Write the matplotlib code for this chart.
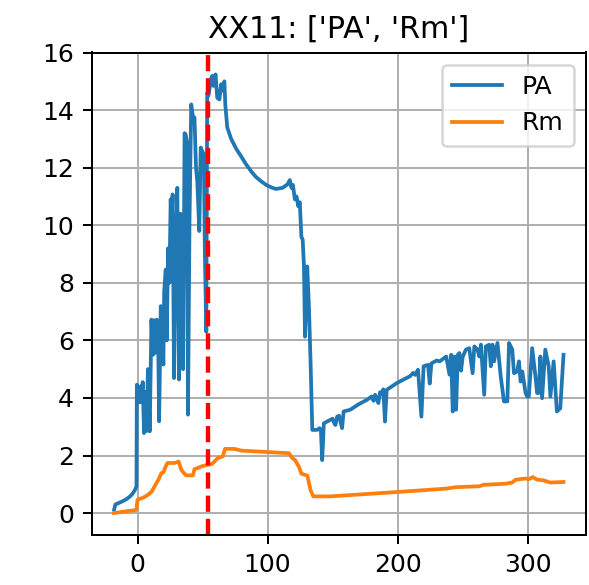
import matplotlib
matplotlib.use("Agg")
import matplotlib.pyplot as plt

# PA series (x, y)
pa_x = [-18, -17, -14, -11, -8, -6, -4, -2, -0.8, -0.5, 1, 2, 3, 4, 5, 6, 7, 8, 9.4, 10.7, 12, 12.7, 13.5,
        14.8, 16.0, 16.6, 17.9, 19.0, 19.9, 20.5, 21.7, 22.5, 23.5, 24.5, 25.5, 26.2, 27.0, 28.1, 29,
        30.6, 31.9, 33.1, 33.8, 34.4, 35.0, 36.2, 37.0, 38.0, 38.8, 40.0, 41.3, 42.5, 43.8, 45.0, 46.0,
        47.5, 48.6, 49.5, 51.0, 51.8, 52.9, 53.6, 54.5, 56.6, 57.4, 58.4, 60.0, 61.3, 63.0, 64.3, 65.6,
        66.8, 67.5, 69.0, 72, 76, 79.6, 83, 87.3, 91, 95, 99, 102.6, 106.4, 111.5, 115.3, 117.1, 118.4,
        119.5, 121, 122.3, 123.6, 124.8, 126, 127, 128, 128.8, 130.5, 131.8, 133.1,
        134.4, 138.2, 140, 141, 142, 143.3, 148.4, 150, 151.5, 152.2, 153.5, 155, 157.3, 158.5, 163.6,
        170, 176.3, 180, 181.5, 182.7, 185.2, 186.5, 188, 189, 190.3, 191.6, 199.2, 205, 209.4, 212,
        213.5, 215.7, 218.3, 220.0, 223.4, 224.7, 226, 230,
        232.3, 234.8, 237.4, 239.9, 241.2, 242.4, 243.7, 245.0, 246.3, 247.5, 248.8, 250.1, 252.6,
        255.1, 257.7, 259.0, 261.5, 262.8, 264.1, 266.6, 267.9, 270.4, 271.7, 273.0, 274.2, 276.8,
        279.3, 281.8, 284.4, 285.7, 288.2, 289.5, 292.0, 293.3, 294.6, 295.9, 298.4, 299.7, 300.9,
        303.5, 306.0, 307.3, 308.5, 309.8, 311.1, 313.6, 316.2, 317.5, 320.0, 322.5, 325.1, 327.6]
pa_y = [0.12, 0.3, 0.36, 0.42, 0.5, 0.57, 0.66, 0.8, 0.93, 4.46, 3.85, 4.4, 3.85, 4.55, 2.78, 4.2,
        2.85, 5.0, 2.84, 6.72, 5.5, 6.7, 5.56, 6.72, 5.6, 3.19, 7.19, 6.0, 5.16, 7.7, 8.46, 6.0, 9.2,
        8.0, 10.9, 10.0, 11.07, 4.69, 8.5, 11.3, 4.64, 10.4, 9.96, 8.23, 5.0, 13.2, 13.16, 12.9, 3.42,
        10.2, 14.2, 13.8, 13.74, 12.0, 11.5, 9.8, 12.7, 12.6, 12.46, 9.0, 6.3, 14.6, 14.5, 15.1, 15.19,
        14.84, 15.24, 14.43, 14.37, 14.9, 14.67, 15.0, 14.2, 13.4, 13.0, 12.65, 12.4, 12.15, 11.88,
        11.68, 11.53, 11.4, 11.32, 11.26, 11.3, 11.42, 11.57, 11.3, 11.4, 10.9, 11.0, 10.66, 10.8, 9.6,
        9.5, 8.57, 6.13, 8.57, 7.18, 5.21,
        2.89, 2.89, 2.95, 2.9, 1.84, 3.12, 3.24, 3.28, 3.1, 3.06, 3.35, 3.38, 2.95, 3.53, 3.59,
        3.78, 3.93, 4.05, 3.9, 4.11, 3.82, 4.2, 4.15, 4.3, 3.18, 4.28, 4.51, 4.65, 4.75, 4.87,
        4.8, 4.98, 3.35, 5.1, 5.15, 4.5, 5.2, 5.3,
        5.27, 5.35, 5.44, 4.81, 5.5, 3.53, 5.44, 3.59, 5.5, 5.56, 4.95, 5.44, 5.68,
        5.73, 4.86, 5.79, 5.68, 5.44, 5.85, 4.11, 5.79, 5.85, 5.1, 5.85, 5.27, 5.91,
        4.75, 3.88, 3.88, 5.91, 5.68, 4.86, 4.92, 5.27, 4.57, 4.92, 4.17, 4.05, 4.05,
        5.73, 4.75, 4.17, 4.17, 5.44, 3.99, 5.68, 5.1, 4.05, 5.27, 3.53, 3.64, 5.5]

# Rm series (x, y)
rm_x = [-18.1, -0.8, 0, 5, 8.2, 11, 14.5, 16, 18.4, 20, 21, 23, 28.6, 31.6, 33.7, 35.5, 37.5, 42.6,
        43.8, 46, 49, 54, 57, 59.2, 61.7, 65.6, 67.3, 74.5, 80, 100, 116.5, 119, 121, 124.2, 126,
        130.6, 133.1, 135.2, 148.4, 199.2, 237.4, 245, 262.8, 266, 283.1, 288, 290.8, 298.4, 301, 304,
        307.3, 312, 317.5, 327.6]
rm_y = [0.0, 0.11, 0.46, 0.55, 0.64, 0.75, 1.04, 1.15, 1.39, 1.42, 1.55, 1.74, 1.74, 1.79, 1.5, 1.4,
        1.31, 1.31, 1.53, 1.56, 1.62, 1.68, 1.7, 1.79, 1.91, 1.97, 2.23, 2.23, 2.17, 2.12, 2.08, 1.91,
        1.85, 1.6, 1.37, 1.3, 0.79, 0.58, 0.58, 0.73, 0.85, 0.9, 0.93, 0.98, 1.02, 1.06, 1.16, 1.2,
        1.18, 1.25, 1.16, 1.14, 1.06, 1.08]

event_x = 54
series_names = ["PA", "Rm"]
title = "XX11: ['PA', 'Rm']"

dpi = 180
fig = plt.figure(figsize=(589 / dpi, 585 / dpi), dpi=dpi)
ax = fig.add_axes([91.5 / 589, (585 - 535) / 585, (586 - 91.5) / 589, (535 - 52.5) / 585])
ax.plot(pa_x, pa_y, color="#1f77b4", lw=1.5, label=series_names[0])
ax.plot(rm_x, rm_y, color="#ff7f0e", lw=1.5, label=series_names[1])
ax.axvline(event_x, color="red", linestyle="--", lw=1.75)
ax.grid(True)
ax.set_title(title, fontsize=12)
ax.legend(loc="upper right")
fig.savefig("out.png", dpi=dpi)
